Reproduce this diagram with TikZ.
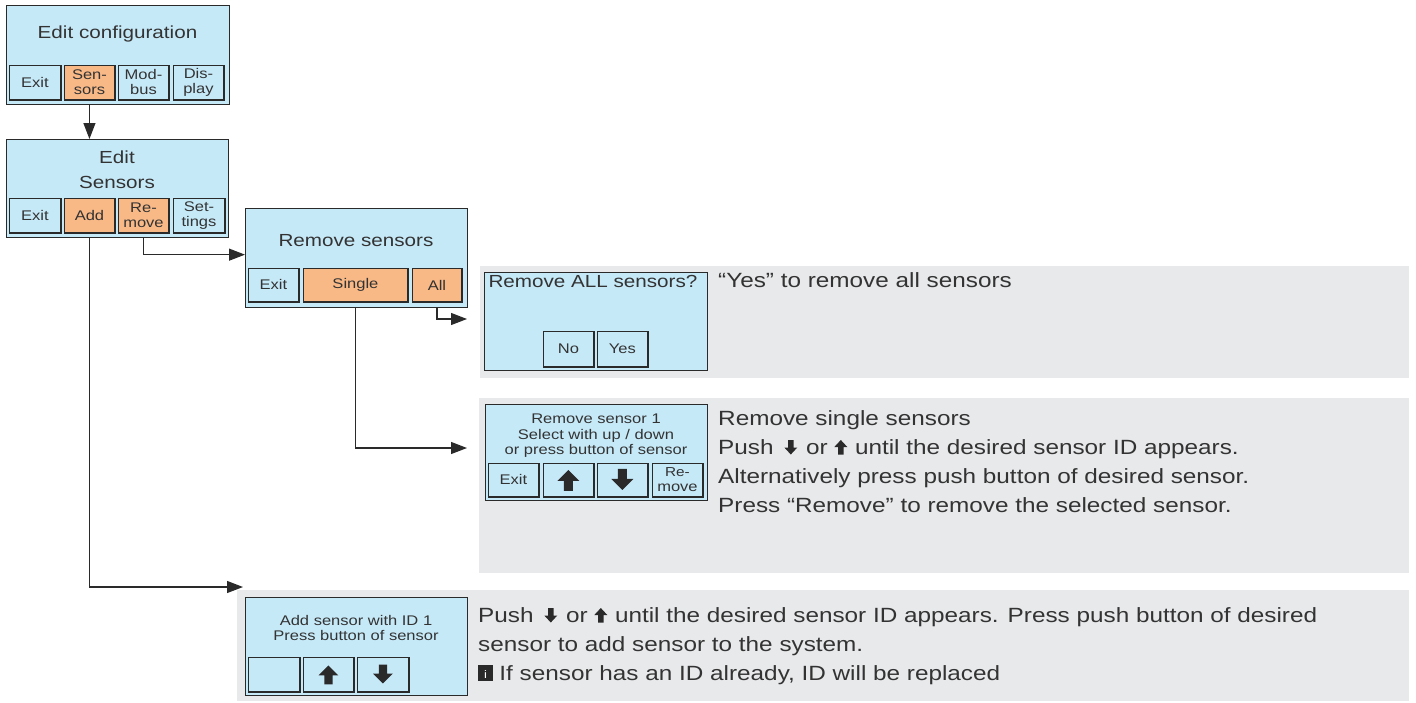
\documentclass[tikz,border=0pt]{standalone}
\usepackage{fontspec}
\setmainfont{Liberation Sans}[FakeStretch=1.18]
\usetikzlibrary{arrows.meta}
\definecolor{scr}{HTML}{C6E9F8}
\definecolor{org}{HTML}{F8B987}
\definecolor{pan}{HTML}{E8E9EB}
\definecolor{ink}{HTML}{2A2A2A}
\definecolor{txt}{HTML}{333333}
\newcommand\infoicon{{\setlength{\fboxsep}{0pt}\colorbox{ink}{\makebox[14.5pt][c]{\rule[-0.5pt]{0pt}{16pt}\raisebox{2pt}{\textcolor{white}{\fontsize{11}{11}\selectfont i}}}}}}
\tikzset{
 screen/.style={draw=ink, line width=1.3pt, fill=scr, inner sep=0pt, anchor=north west},
 btn/.style={draw=ink, line width=0.9pt, inner sep=0pt, align=center, text=txt, font=\fontsize{14}{15}\selectfont},
 btnsh/.style={draw=ink, line width=2pt},
 ttl/.style={text=txt, font=\fontsize{17.5}{20}\selectfont, inner sep=0pt, anchor=base},
 small/.style={text=txt, font=\fontsize{14}{15.5}\selectfont, inner sep=0pt, anchor=base},
 desc/.style={text=txt, font=\fontsize{20.6}{29}\selectfont, inner sep=0pt, anchor=base west},
 panel/.style={fill=pan, draw=none, inner sep=0pt, anchor=north west},
 conn/.style={draw=ink, line width=1.2pt},
 arr/.style={conn, -{Triangle[length=16pt,width=12pt]}},
 upar/.pic={\fill[ink] (-11,1) -- (0,-10) -- (11,1) -- (4.5,1) -- (4.5,11) -- (-4.5,11) -- (-4.5,1) -- cycle;},
 dnar/.pic={\fill[ink] (-11,-1) -- (0,10) -- (11,-1) -- (4.5,-1) -- (4.5,-11) -- (-4.5,-11) -- (-4.5,-1) -- cycle;},
 sdn/.pic={\fill[ink] (-2.7,-14) -- (2.7,-14) -- (2.7,-6.5) -- (6.5,-6.5) -- (0,0.5) -- (-6.5,-6.5) -- (-2.7,-6.5) -- cycle;},
 sup/.pic={\fill[ink] (-2.7,0.5) -- (2.7,0.5) -- (2.7,-7) -- (6.5,-7) -- (0,-14) -- (-6.5,-7) -- (-2.7,-7) -- cycle;},
}
\newcommand\Btn[7]{\node[btn, fill=#1, anchor=north west, minimum width=#5pt, minimum height=#6pt] (#2) at (#3,#4) {#7};
 \draw[btnsh] (#2.south west) -- (#2.south east) -- (#2.north east);}
\begin{document}
\begin{tikzpicture}[x=1pt,y=-1pt]
\useasboundingbox (0,0) rectangle (1416,702);
% panels
\node[panel, minimum width=929pt, minimum height=112pt] (p1) at (480,266) {};
\node[panel, minimum width=930pt, minimum height=175pt] (p2) at (479,398) {};
\node[panel, minimum width=1172pt, minimum height=111pt] (p3) at (237,590) {};
% box 1
\node[screen, minimum width=223pt, minimum height=99pt] (b1) at (6,5) {};
\node[ttl] (b1t) at (117.5,38) {Edit configuration};
\Btn{scr}{b1exit}{9}{65}{51}{34}{Exit}
\Btn{org}{bsens}{64}{65}{50}{34}{Sen-\\sors}
\Btn{scr}{bmod}{118}{65}{50}{34}{Mod-\\bus}
\Btn{scr}{bdisp}{173}{65}{50}{34}{Dis-\\play}
% box 2
\node[screen, minimum width=222pt, minimum height=98pt] (b2) at (6,139) {};
\node[ttl] (b2t1) at (117,163) {Edit};
\node[ttl] (b2t2) at (117,188) {Sensors};
\Btn{scr}{b2exit}{9}{198}{51}{34}{Exit}
\Btn{org}{badd}{64}{198}{50}{34}{Add}
\Btn{org}{brem}{118}{198}{50}{34}{Re-\\move}
\Btn{scr}{bset}{173}{198}{51}{34}{Set-\\tings}
% box 3
\node[screen, minimum width=222pt, minimum height=99pt] (b3) at (245,208) {};
\node[ttl] (b3t) at (356,246) {Remove sensors};
\Btn{scr}{b3exit}{248}{268}{50}{33}{Exit}
\Btn{org}{bsgl}{303}{268}{104}{33}{Single}
\Btn{org}{ball}{412}{268}{49}{33}{All}
% box 4
\node[screen, minimum width=223pt, minimum height=98pt] (b4) at (484,272) {};
\node[ttl] (b4t) at (593,287) {Remove ALL sensors?};
\Btn{scr}{bno}{543}{331}{50}{35}{No}
\Btn{scr}{byes}{597}{331}{50}{35}{Yes}
% box 5
\node[screen, minimum width=222pt, minimum height=96pt] (b5) at (485,404) {};
\node[small] (b5t1) at (596,423) {Remove sensor 1};
\node[small] (b5t2) at (596,439) {Select with up / down};
\node[small] (b5t3) at (596,454) {or press button of sensor};
\Btn{scr}{b5exit}{488}{463}{50}{33}{Exit}
\Btn{scr}{b5up}{543}{463}{50}{33}{}
\Btn{scr}{b5dn}{597}{463}{50}{33}{}
\Btn{scr}{b5rem}{652}{463}{50}{33}{\fontsize{13}{12}\selectfont Re-\\move}
\pic at (b5up.center) {upar};
\pic at (b5dn.center) {dnar};
% box 6
\node[screen, minimum width=222pt, minimum height=98pt] (b6) at (245,597) {};
\node[small] (b6t1) at (356,625) {Add sensor with ID 1};
\node[small] (b6t2) at (356,640) {Press button of sensor};
\Btn{scr}{b6bl}{248}{657}{51}{34}{}
\Btn{scr}{b6up}{303}{657}{50}{34}{}
\Btn{scr}{b6dn}{357}{657}{51}{34}{}
\pic[scale=0.9] at (b6up.center) {upar};
\pic[scale=0.9] at (b6dn.center) {dnar};
% connectors
\coordinate (allend) at (467,319);
\coordinate (sglend) at (467,448);
\coordinate (addend) at (243,587);
\draw[arr] (bsens.south |- b1.south) -- (bsens.south |- b2.north);
\draw[arr] (brem.south |- b2.south) |- ([yshift=3.5pt]b3.west);
\draw[arr] (ball.south |- b3.south) |- (allend);
\draw[arr] (bsgl.south |- b3.south) |- (sglend);
\draw[arr] (badd.south |- b2.south) |- (addend);
% descriptions
\node[desc] (d1) at (718,287) {“Yes” to remove all sensors};
\node[desc] (d2) at (718,425) {Remove single sensors};
\node[desc] (d3a) at (718,454) {Push};
\pic at ([xshift=17pt]d3a.base east) {sdn};
\node[desc] (d3b) at ([xshift=32pt]d3a.base east) {or};
\pic at ([xshift=13pt]d3b.base east) {sup};
\node[desc] (d3c) at ([xshift=27pt]d3b.base east) {until the desired sensor ID appears.};
\node[desc] (d4) at (718,483) {Alternatively press push button of desired sensor.};
\node[desc] (d5) at (718,512) {Press “Remove” to remove the selected sensor.};
\node[desc] (d6a) at (478,622) {Push};
\pic at ([xshift=17pt]d6a.base east) {sdn};
\node[desc] (d6b) at ([xshift=32pt]d6a.base east) {or};
\pic at ([xshift=13pt]d6b.base east) {sup};
\node[desc] (d6c) at ([xshift=27pt]d6b.base east) {until the desired sensor ID appears. Press push button of desired};
\node[desc] (d7) at (478,651) {sensor to add sensor to the system.};
\node[desc] (d8) at (478,680) {\infoicon{} If sensor has an ID already, ID will be replaced};
\end{tikzpicture}
\end{document}
